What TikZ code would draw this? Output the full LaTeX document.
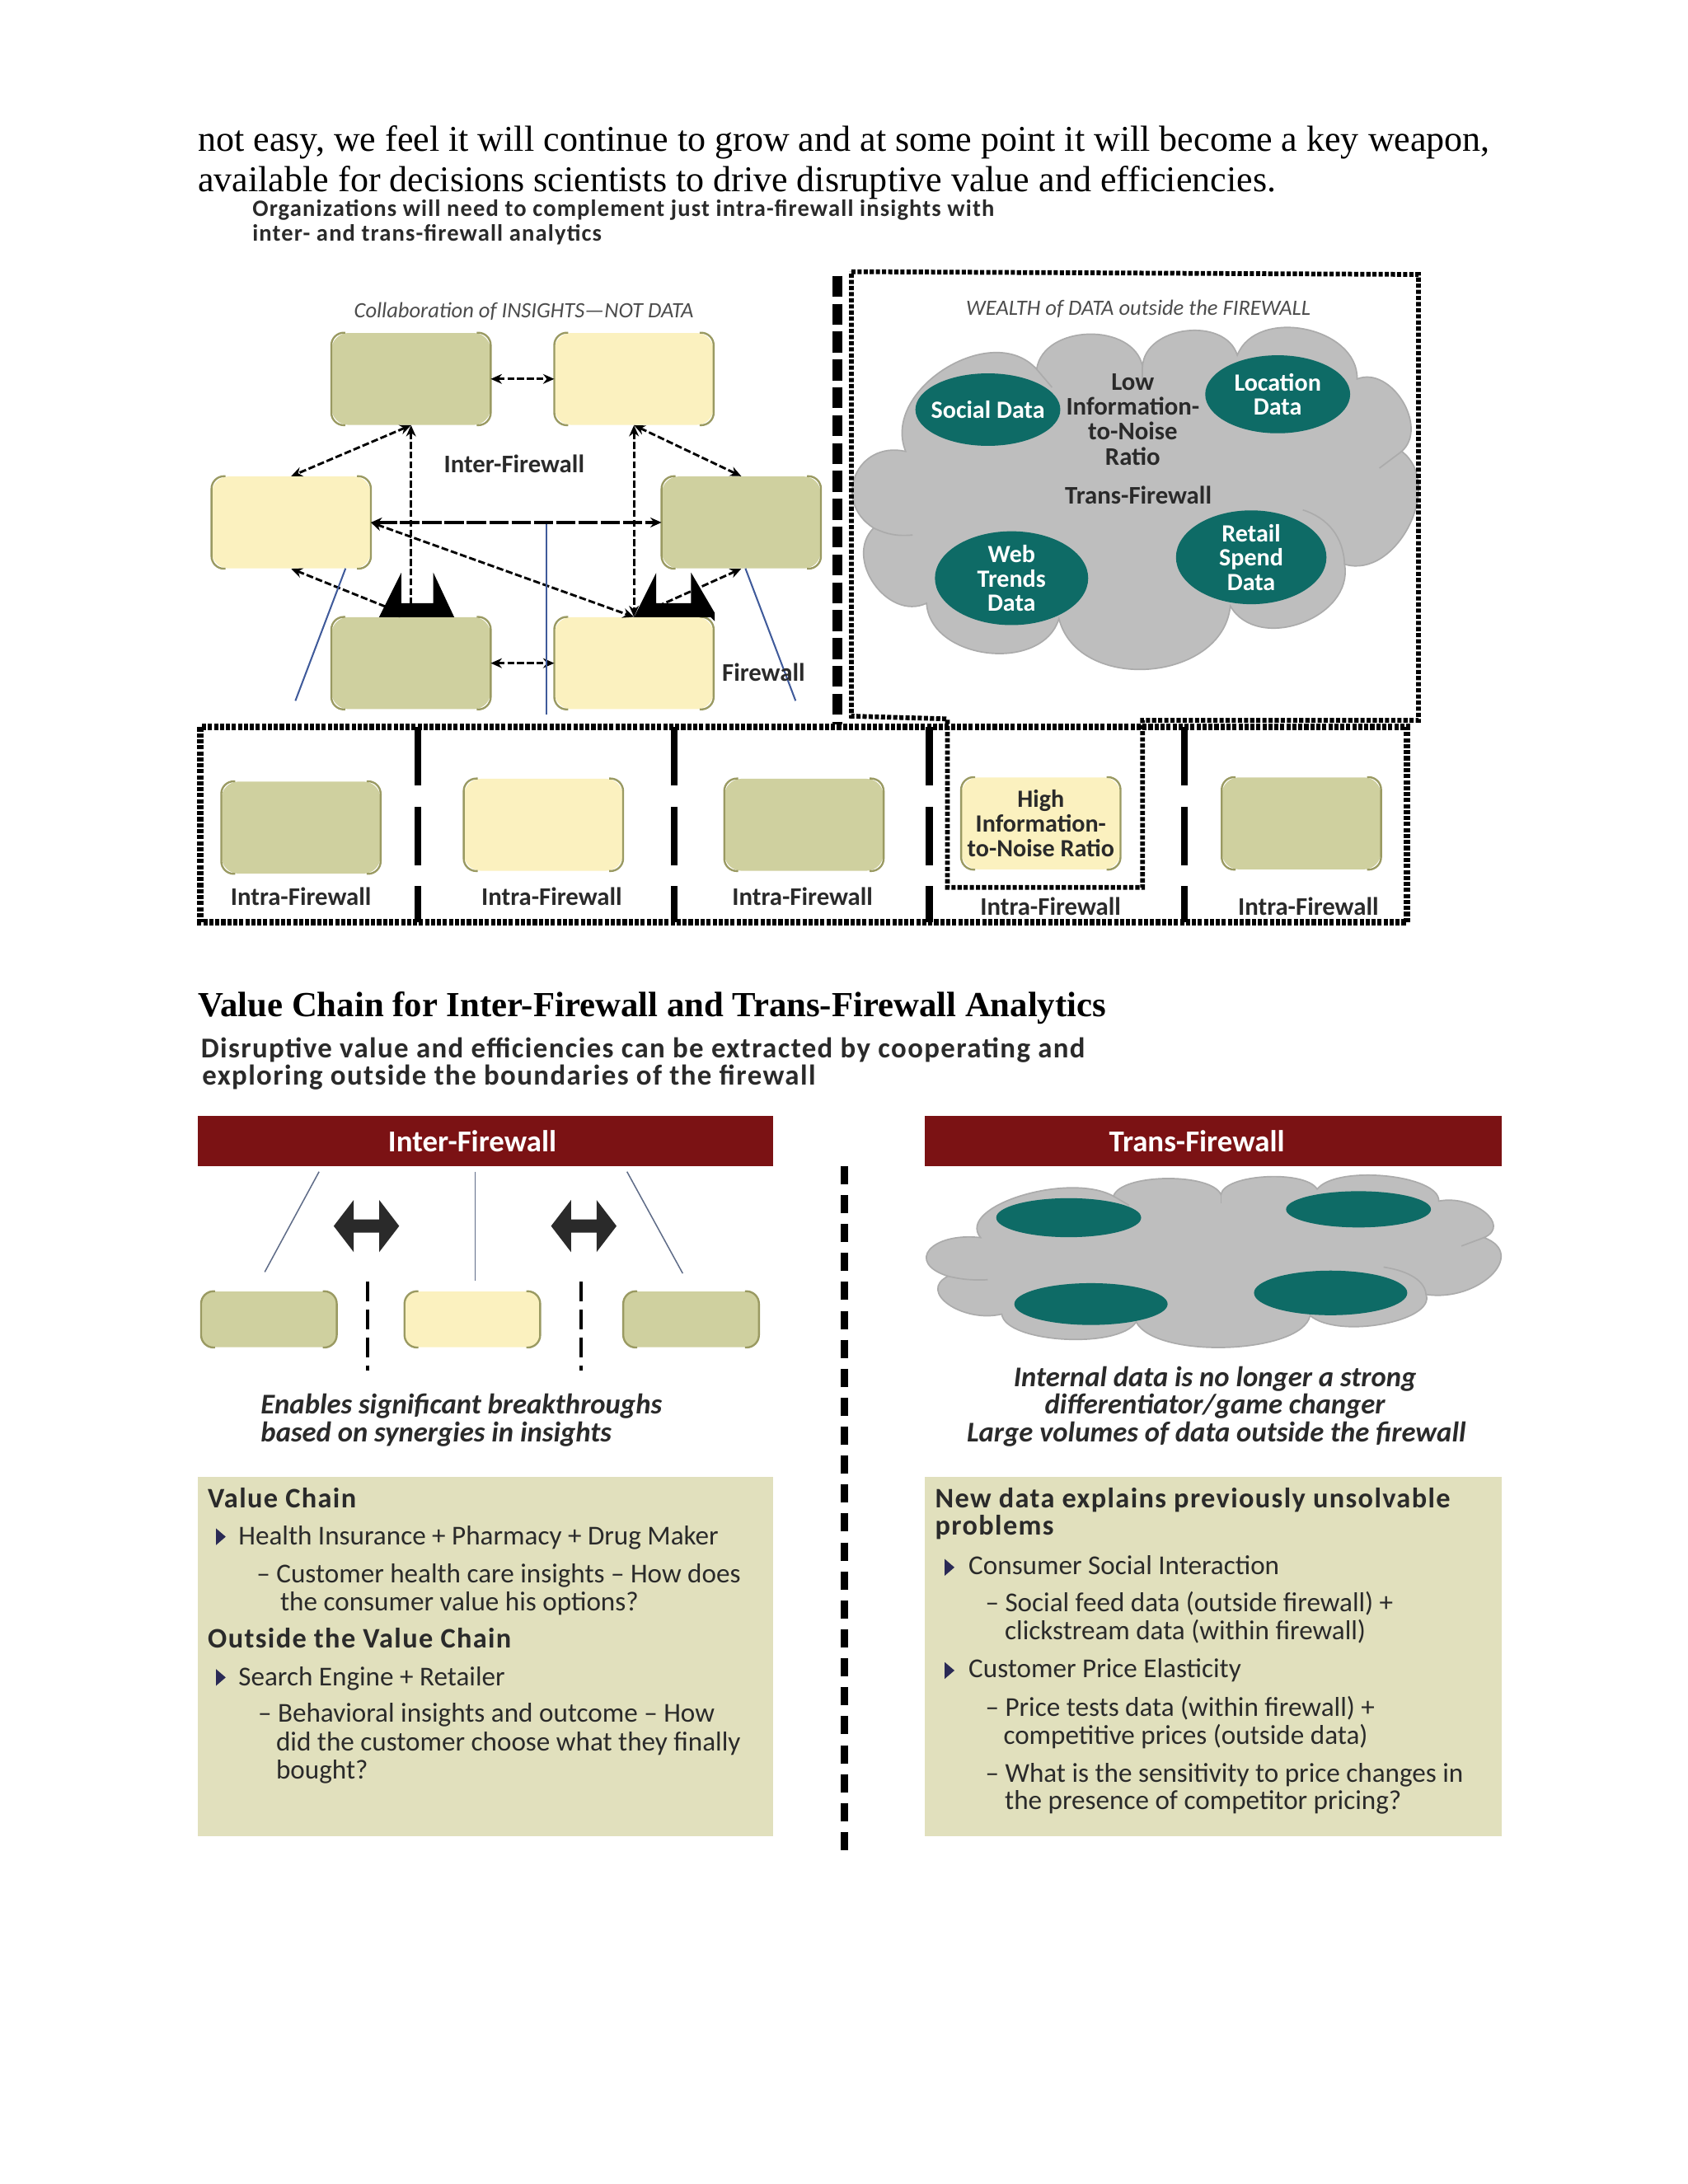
\documentclass[tikz,border=0pt]{standalone}
\usepackage{fontspec}
\setmainfont{Liberation Serif}
\setsansfont{Carlito}
\newfontfamily\wideface[LetterSpace=4]{Carlito}
\usetikzlibrary{shapes.geometric,shapes.arrows,arrows.meta}

\definecolor{olivebox}{HTML}{CFD09F}
\definecolor{creambox}{HTML}{FBF1BF}
\definecolor{rimcol}{HTML}{9A9A62}
\definecolor{tealoval}{HTML}{0E6B66}
\definecolor{cloudfill}{HTML}{BEBEBE}
\definecolor{cloudrim}{HTML}{ABABAB}
\definecolor{barred}{HTML}{7B1214}
\definecolor{panelcol}{HTML}{E1E0BD}
\definecolor{wallblue}{HTML}{3F5A9A}
\definecolor{wallgrey}{HTML}{5F6C88}
\definecolor{inkcol}{HTML}{2A2A2A}
\definecolor{bulletcol}{HTML}{2A2A55}

\tikzset{
  txt/.style={inner sep=0,text height=14pt,text depth=2pt},
  bodyln/.style={inner sep=0,text height=21pt,text depth=2pt,anchor=west,font=\fontsize{26.05}{29}\selectfont},
  sectln/.style={inner sep=0,text height=19pt,text depth=2pt,anchor=west,font=\fontsize{25.3}{28}\selectfont\bfseries},
  headln/.style={txt,anchor=west,text=inkcol,font=\fontsize{16.9}{18}\selectfont\wideface\bfseries},
  headbig/.style={txt,anchor=west,text=inkcol,font=\fontsize{20.6}{22}\selectfont\wideface\bfseries},
  lab/.style={txt,text=inkcol,font=\fontsize{18.2}{18}\selectfont\sffamily\bfseries},
  itl/.style={txt,text=black!70,font=\fontsize{15.7}{18}\selectfont\sffamily\itshape},
  itb/.style={txt,text=inkcol,font=\fontsize{20.5}{20}\selectfont\sffamily\bfseries\itshape},
  panelhd/.style={txt,anchor=west,text=inkcol,font=\fontsize{20.3}{20}\selectfont\wideface\bfseries},
  panelln/.style={txt,anchor=west,text=inkcol,font=\fontsize{19.6}{20}\selectfont\sffamily},
  ovaltxt/.style={text=white,inner sep=0,align=center,font=\fontsize{17.8}{17.5}\selectfont\sffamily\bfseries},
  oval/.style={ellipse,fill=tealoval,ovaltxt},
  bartxt/.style={fill=barred,text=white,font=\fontsize{21.8}{22}\selectfont\sffamily\bfseries,minimum height=36pt,inner sep=0},
  bigbox/.style={rectangle,rounded corners=12pt,minimum width=114pt,minimum height=66pt,inner sep=0},
  smallbox/.style={rectangle,rounded corners=9pt,minimum width=97pt,minimum height=40pt,inner sep=0},
  rim/.style={draw=rimcol,line width=1.4pt,rounded corners=9pt},
  link/.style={{Stealth[length=8pt,width=7pt]}-{Stealth[length=8pt,width=7pt]},line width=1.7pt,dash pattern=on 5pt off 2pt},
  longlink/.style={{Stealth[length=8pt,width=7pt]}-{Stealth[length=8pt,width=7pt]},line width=2pt,dash pattern=on 14pt off 2pt},
  wall/.style={line width=1.2pt,draw=wallblue},
  wallthin/.style={line width=.9pt,draw=wallgrey},
  dotline/.style={draw=black,line width=3.4pt,dash pattern=on 3pt off 1.4pt},
  dotthick/.style={draw=black,line width=4.8pt,dash pattern=on 3pt off 1.3pt},
  sepline/.style={draw=black,line width=5pt,dash pattern=on 42pt off 15pt},
  blockarrow/.style={double arrow,fill=inkcol,inner sep=0,minimum height=47pt,text width=0pt,text height=9pt,text depth=0pt,double arrow head extend=14pt,double arrow tip angle=105},
  bulletmark/.pic={\fill[bulletcol] (-3,-6) -- (4,0) -- (-3,6) -- cycle;}
}

% one cloud, its lobes drawn clockwise from cusp to cusp
\newcommand{\firecloud}{%
  \filldraw[fill=cloudfill,draw=cloudrim,line width=1pt]
    (650,324) to[bend left=80,looseness=1.1] (744,265)
    to[bend left=80,looseness=1.1] (820,263)
    to[bend left=80,looseness=1.1] (888,255)
    to[bend left=80,looseness=1.1] (974,272)
    to[bend left=80,looseness=1.1] (1006,324)
    to[bend left=80,looseness=1.1] (965,405)
    to[bend left=80,looseness=1.15] (883,435)
    to[bend left=80,looseness=1.15] (760,444)
    to[bend left=80,looseness=1.1] (665,433)
    to[bend left=80,looseness=1.2] (627,379)
    to[bend left=80,looseness=1.55] (650,324) -- cycle;
  \draw[cloudrim,line width=1pt] (965,405) to[bend right=35] (935,366);
  \draw[cloudrim,line width=1pt] (627,379) to[bend right=15] (655,384);
  \draw[cloudrim,line width=1pt] (1006,324) -- (990,336);
  \draw[cloudrim,line width=1pt] (744,265) -- (755,278);
  \draw[cloudrim,line width=1pt] (820,263) -- (820,275);
}

\begin{document}
\begin{tikzpicture}[x=1pt,y=-1pt]
\useasboundingbox (0,0) rectangle (1211.3,1567.6);

% page text
\node[bodyln] (bodyA) at (142,99) {not easy, we feel it will continue to grow and at some point it will become a key weapon,};
\node[bodyln] (bodyB) at (142,128) {available for decisions scientists to drive disruptive value and efficiencies.};
\node[headln] (headA) at (181,149) {Organizations will need to complement just intra-firewall insights with};
\node[headln] (headB) at (181,167) {inter- and trans-firewall analytics};

% inter-firewall boxes
\node[bigbox,fill=olivebox] (boxA) at (295,272) {};
\node[bigbox,fill=creambox] (boxB) at (455,272) {};
\node[bigbox,fill=creambox] (boxC) at (209,375) {};
\node[bigbox,fill=olivebox] (boxF) at (532,375) {};
\node[bigbox,fill=olivebox] (boxD) at (295,476) {};
\node[bigbox,fill=creambox] (boxE) at (455,476) {};

% intra-firewall boxes
\node[bigbox,fill=olivebox] (intA) at (216,594) {};
\node[bigbox,fill=creambox] (intB) at (390,592) {};
\node[bigbox,fill=olivebox] (intC) at (577,592) {};
\node[bigbox,fill=creambox,align=center,text=inkcol,font=\fontsize{17.8}{17.5}\selectfont\sffamily\bfseries] (intD) at (747,591) {High\\Information-\\to-Noise Ratio};
\node[bigbox,fill=olivebox] (intE) at (934,591) {};

% value chain boxes
\node[smallbox,fill=olivebox] (valA) at (193,947) {};
\node[smallbox,fill=creambox] (valB) at (339,947) {};
\node[smallbox,fill=olivebox] (valC) at (496,947) {};

\foreach \b in {boxA,boxB,boxC,boxD,boxE,boxF,intA,intB,intC,intD,intE,valA,valB,valC}{
  \draw[rim] ([xshift=10pt]\b.north west) -- (\b.north west) -- (\b.south west) -- ([xshift=10pt]\b.south west);
  \draw[rim] ([xshift=-10pt]\b.north east) -- (\b.north east) -- (\b.south east) -- ([xshift=-10pt]\b.south east);
}

% links between the firms
\draw[link] (boxA) -- (boxB);
\draw[link] (boxA.south) -- (boxC.north);
\draw[link] (boxA.south) -- (boxD.north);
\draw[link] (boxB.south) -- (boxE.north);
\draw[link] (boxB.south) -- (boxF.north);
\draw[longlink] (boxC) -- (boxF);
\draw[link] (boxC.east) -- (boxE.north);
\draw[link] (boxC.south) -- (boxD.north);
\draw[link] (boxF.south) -- (boxE.north);
\draw[link] (boxD) -- (boxE);

% black wedges on the lower boxes
\fill[black] (272,443) -- (288,411) -- (288,433) -- (311,433) -- (311,411) -- (326,443) -- cycle;
\fill[black] (455,443) -- (471,411) -- (471,433) -- (496,433) -- (496,411) -- (513,440) -- (513,446) -- (510,443) -- cycle;

% firewall lines
\coordinate (wlA) at (248,408);
\coordinate (wlB) at (212,503);
\coordinate (wmA) at (392,376);
\coordinate (wmB) at (392,513);
\coordinate (wrA) at (535,408);
\coordinate (wrB) at (571,503);
\draw[wall] (wlA) -- (wlB);
\draw[wall] (wmA) -- (wmB);
\draw[wall] (wrA) -- (wrB);

\node[itl] (collab) at (376,222) {Collaboration of INSIGHTS—NOT DATA};
\node[lab] (interlab) at (369,333) {Inter-Firewall};
\node[lab] (walllab) at (548,483) {Firewall};

% outside data
\firecloud
\node[itl] (wealth) at (817,220) {WEALTH of DATA outside the FIREWALL};
\node[oval,minimum width=104pt,minimum height=52pt,label={[ovaltxt]center:Social Data}] (social) at (709,294) {};
\node[oval,minimum width=104pt,minimum height=56pt] (location) at (917,283) {Location\\Data};
\node[oval,minimum width=110pt,minimum height=62pt] (webdata) at (726,415) {Web\\Trends\\Data};
\node[oval,minimum width=108pt,minimum height=60pt] (retail) at (898,400) {Retail\\Spend\\Data};
\node[lab,align=center,text height=,text depth=] (lownoise) at (813,301) {Low\\Information-\\to-Noise\\Ratio};
\node[lab] (translab) at (817,356) {Trans-Firewall};

% fences
\coordinate (fenceTop) at (601,198);
\coordinate (fenceEnd) at (601,520);
\draw[draw=black,line width=7pt,dash pattern=on 15pt off 5pt] (fenceTop) -- (fenceEnd);
\draw[dotline] (611,195) -- (1018,197) -- (1018,517) -- (820,517) -- (820,637) -- (680,637) -- (680,516) -- (611,514) -- cycle;
\draw[dotthick] (144,522) rectangle (1010,662);
\foreach \x in {300,484,667,850}{
  \coordinate (sepTop) at (\x,522);
  \coordinate (sepEnd) at (\x,662);
  \draw[sepline] (sepTop) -- (sepEnd);
}
\node[lab] (intlabA) at (216,644) {Intra-Firewall};
\node[lab] (intlabB) at (396,644) {Intra-Firewall};
\node[lab] (intlabC) at (576,644) {Intra-Firewall};
\node[lab] (intlabD) at (754,651) {Intra-Firewall};
\node[lab] (intlabE) at (939,651) {Intra-Firewall};

% value chain part
\node[sectln] (sect) at (142,721) {Value Chain for Inter-Firewall and Trans-Firewall Analytics};
\node[headbig] (discA) at (144,753) {Disruptive value and efficiencies can be extracted by cooperating and};
\node[headbig] (discB) at (145,773) {exploring outside the boundaries of the firewall};

\node[bartxt,minimum width=413pt] (barL) at (348.5,819) {\hspace*{-19pt}Inter-Firewall};
\node[bartxt,minimum width=414pt] (barR) at (871,819) {\hspace*{-24pt}Trans-Firewall};

\coordinate (midTop) at (606,837);
\coordinate (midEnd) at (606,1328);
\draw[draw=black,line width=5pt,dash pattern=on 13pt off 7.78pt] (midTop) -- (midEnd);

% left side under the bar
\coordinate (vlA) at (229,841);
\coordinate (vlB) at (190,913);
\coordinate (vmA) at (341,841);
\coordinate (vmB) at (341,919);
\coordinate (vrA) at (450,841);
\coordinate (vrB) at (490,914);
\draw[wallthin] (vlA) -- (vlB);
\draw[wallthin] (vmA) -- (vmB);
\draw[wallthin] (vrA) -- (vrB);
\node[blockarrow] (blockA) at (263,880) {};
\node[blockarrow] (blockB) at (419,880) {};
\coordinate (dashAt) at (264,920);
\coordinate (dashAb) at (264,984);
\coordinate (dashBt) at (417,920);
\coordinate (dashBb) at (417,984);
\draw[line width=2.5pt,dash pattern=on 14pt off 6pt] (dashAt) -- (dashAb);
\draw[line width=2.5pt,dash pattern=on 14pt off 6pt] (dashBt) -- (dashBb);
\node[itb,anchor=west] (enabA) at (187,1009) {Enables significant breakthroughs};
\node[itb,anchor=west] (enabB) at (187,1029) {based on synergies in insights};

% right side under the bar
\begin{scope}[shift={(44,725)},xscale=1.015,yscale=.504]
\firecloud
\end{scope}
\node[oval,minimum width=104pt,minimum height=28pt] (ovalA) at (767,874) {};
\node[oval,minimum width=104pt,minimum height=26pt] (ovalB) at (975,868) {};
\node[oval,minimum width=110pt,minimum height=30pt] (ovalC) at (783,936) {};
\node[oval,minimum width=110pt,minimum height=32pt] (ovalD) at (955,928) {};
\node[itb] (intern) at (872,989) {Internal data is no longer a strong};
\node[itb] (differ) at (872,1009) {differentiator/game changer};
\node[itb] (large) at (873,1029) {Large volumes of data outside the firewall};

% text panels
\node[fill=panelcol,minimum width=413pt,minimum height=258pt,inner sep=0] (panelL) at (348.5,1189) {};
\node[fill=panelcol,minimum width=414pt,minimum height=258pt,inner sep=0] (panelR) at (871,1189) {};

\node[panelhd] (vcA) at (149,1076) {Value Chain};
\pic at (158,1103) {bulletmark};
\node[panelln] (vcB) at (171,1103) {Health Insurance + Pharmacy + Drug Maker};
\node[panelln] (vcC) at (184,1130) {– Customer health care insights – How does};
\node[panelln] (vcD) at (201,1150) {the consumer value his options?};
\node[panelhd] (ovA) at (149,1177) {Outside the Value Chain};
\pic at (158,1204) {bulletmark};
\node[panelln] (ovB) at (171,1204) {Search Engine + Retailer};
\node[panelln] (ovC) at (185,1230) {– Behavioral insights and outcome – How};
\node[panelln] (ovD) at (198,1251) {did the customer choose what they finally};
\node[panelln] (ovE) at (198,1271) {bought?};

\node[panelhd] (ndA) at (671,1076) {New data explains previously unsolvable};
\node[panelhd] (ndB) at (671,1096) {problems};
\pic at (681,1125) {bulletmark};
\node[panelln] (ndC) at (695,1124) {Consumer Social Interaction};
\node[panelln] (ndD) at (707,1151) {– Social feed data (outside firewall) +};
\node[panelln] (ndE) at (721,1171) {clickstream data (within firewall)};
\pic at (681,1199) {bulletmark};
\node[panelln] (ndF) at (695,1198) {Customer Price Elasticity};
\node[panelln] (ndG) at (707,1226) {– Price tests data (within firewall) +};
\node[panelln] (ndH) at (720,1246) {competitive prices (outside data)};
\node[panelln] (ndI) at (707,1273) {– What is the sensitivity to price changes in};
\node[panelln] (ndJ) at (721,1293) {the presence of competitor pricing?};
\end{tikzpicture}
\end{document}
